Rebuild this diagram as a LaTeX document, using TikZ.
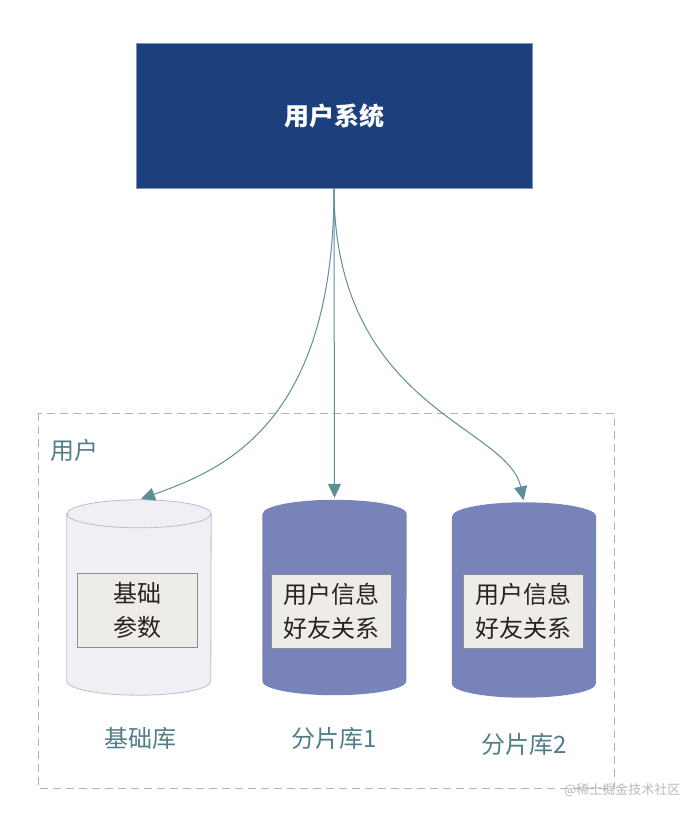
\documentclass[tikz,border=0pt]{standalone}
\usepackage{fontspec}
\setmainfont{Noto Sans CJK SC}
\usetikzlibrary{positioning,arrows.meta}
\definecolor{SysNavy}{HTML}{1C3F7D}
\definecolor{DbBlue}{HTML}{7884B9}
\definecolor{DbLight}{HTML}{EFEFF4}
\definecolor{DbEdge}{HTML}{BCBCD2}
\definecolor{TagFill}{HTML}{EEECE9}
\definecolor{TagEdge}{HTML}{8E8E8E}
\definecolor{TagText}{HTML}{2A2220}
\definecolor{LabelTeal}{HTML}{4F7E88}
\definecolor{ArrowTeal}{HTML}{5E8E96}

% cylinder outline round a (rectangular) node
\newcommand{\dbbody}[2]{%
  \path[#2] ([yshift=-14pt]#1.north west) -- ([yshift=14pt]#1.south west)
    arc[start angle=180, end angle=360, x radius=72pt, y radius=14pt]
    -- ([yshift=-14pt]#1.north east)
    arc[start angle=0, end angle=180, x radius=72pt, y radius=14pt] -- cycle;}

\begin{document}
\begin{tikzpicture}[
  x=1pt, y=1pt,
  sysbox/.style={rectangle, fill=SysNavy, draw=SysNavy!55!white, minimum width=396pt, minimum height=145pt, text=white, font=\fontsize{25}{28}\selectfont\bfseries},
  db/.style={rectangle, minimum width=144pt, minimum height=195pt, inner sep=0pt},
  tag/.style={rectangle, draw=TagEdge, fill=TagFill, minimum width=120pt, minimum height=74pt, inner sep=2pt, align=center, text=TagText, font=\fontsize{24}{34}\selectfont},
  dblabel/.style={text=LabelTeal, font=\fontsize{24}{28}\selectfont},
  group/.style={draw=gray!60, dashed, dash pattern=on 8pt off 5pt, line width=1pt},
  arr/.style={-{Triangle[length=14pt,width=13pt]}, draw=ArrowTeal, line width=1pt, shorten >=2pt}
]
\useasboundingbox (0,0) rectangle (694,-820);

% user system on top
\node[sysbox] (sys) at (334,-115.5) {用户系统};

% group frame
\draw[group] (38,-413) rectangle (614,-788);
\node[dblabel, anchor=west, inner sep=0pt] (grp) at (50,-450) {用户};

% databases
\node[db] (base)   at (139,-597.5) {};
\node[db] (shard1) at (334.5,-597.5) {};
\node[db] (shard2) at (524,-600) {};
\dbbody{base}{fill=DbLight, draw=DbEdge, line width=0.8pt}
\draw[DbEdge, line width=0.8pt] ([yshift=-14pt]base.north west)
  arc[start angle=180, end angle=360, x radius=72pt, y radius=14pt];
\dbbody{shard1}{fill=DbBlue}
\dbbody{shard2}{fill=DbBlue}

\node[tag] (baseTag)   at (137.5,-610.5) {基础\\参数};
\node[tag] (shard1Tag) at (331,-611)     {用户信息\\好友关系};
\node[tag] (shard2Tag) at (523,-611.5)   {用户信息\\好友关系};

\node[dblabel] (baseLbl)   at (140,-738) {基础库};
\node[dblabel] (shard1Lbl) at (334,-738) {分片库1};
\node[dblabel] (shard2Lbl) at (524,-744) {分片库2};

% connections
\draw[arr] (sys.south) to[out=-90, in=20, out distance=240pt, in distance=85pt] (base.north);
\draw[arr] (sys.south) -- (shard1.north);
\draw[arr] (sys.south) to[out=-90, in=102, out distance=220pt, in distance=79pt] (shard2.north);

\node[text=gray!55, font=\fontsize{13}{15}\selectfont, anchor=east] (mark) at (684,-790) {@稀土掘金技术社区};
\end{tikzpicture}
\end{document}
